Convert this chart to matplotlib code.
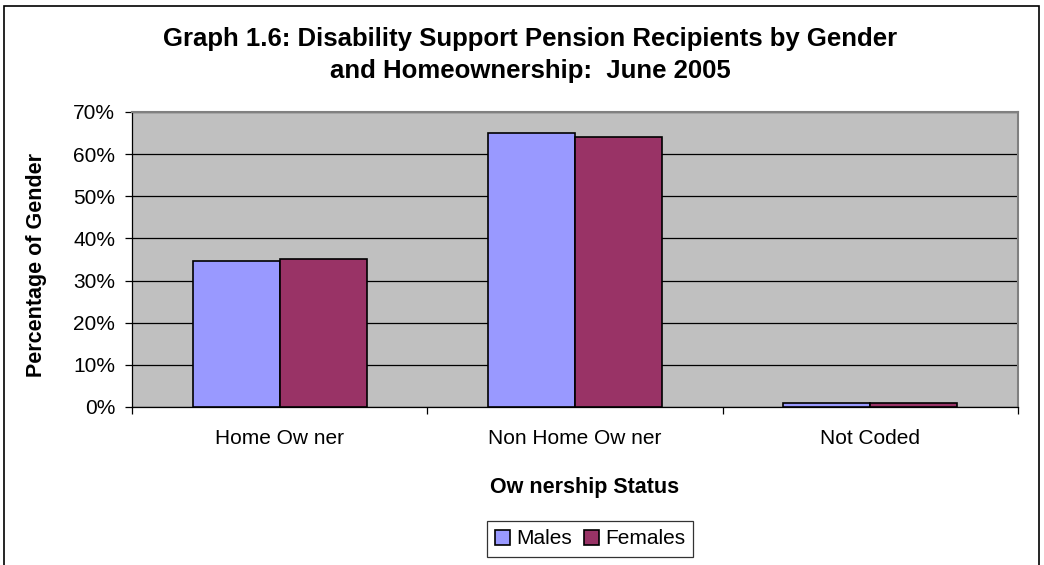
import numpy as np
import matplotlib.pyplot as plt
from matplotlib.patches import Rectangle
from matplotlib.ticker import FixedLocator, PercentFormatter

plt.rcParams["font.family"] = ["Liberation Sans", "DejaVu Sans"]

categories = ["Home Ow ner", "Non Home Ow ner", "Not Coded"]
males = [34.6, 65.0, 1.0]
females = [35.1, 64.1, 1.0]
series_names = ["Males", "Females"]
colors = ["#9999FF", "#993366"]

fig = plt.figure(figsize=(10.44, 5.65), dpi=100)
ax = fig.add_axes([0.1264, 0.2797, 0.8487, 0.5221])

x = np.arange(len(categories))
w = 0.295
ax.bar(x - w / 2, males, w, color=colors[0], edgecolor="black", linewidth=1.2,
       label=series_names[0], zorder=3)
ax.bar(x + w / 2, females, w, color=colors[1], edgecolor="black", linewidth=1.2,
       label=series_names[1], zorder=3)

ax.set_facecolor("#C0C0C0")
ax.set_xlim(-0.5, len(categories) - 0.5)
ax.set_ylim(0, 70)
ax.set_yticks(np.arange(0, 71, 10))
ax.yaxis.set_major_formatter(PercentFormatter(decimals=0))
ax.grid(axis="y", color="black", linewidth=0.9, zorder=1)

ax.set_xticks(x)
ax.set_xticklabels(categories)
ax.xaxis.set_minor_locator(FixedLocator(np.arange(-0.5, len(categories), 1.0)))
ax.tick_params(axis="x", which="major", length=0, pad=16, labelsize=15)
ax.tick_params(axis="x", which="minor", length=5, width=0.9, direction="out")
ax.tick_params(axis="y", length=5, width=0.9, labelsize=15, pad=7)

for side in ["top", "right"]:
    ax.spines[side].set_color("#808080")
    ax.spines[side].set_linewidth(1.5)
for side in ["left", "bottom"]:
    ax.spines[side].set_color("black")
    ax.spines[side].set_linewidth(0.9)

ax.set_ylabel("Percentage of Gender", fontsize=15.5, fontweight="bold")
ax.yaxis.set_label_coords(37 / 1044, 1 - 265 / 565, transform=fig.transFigure)
ax.set_xlabel("Ow nership Status", fontsize=15.5, fontweight="bold")
ax.xaxis.set_label_coords(585 / 1044, 1 - 487 / 565, transform=fig.transFigure)
ax.xaxis.label.set_va("center")
ax.yaxis.label.set_va("center")

fig.text(530 / 1044, 1 - 55 / 565,
         "Graph 1.6: Disability Support Pension Recipients by Gender\nand Homeownership:  June 2005",
         ha="center", va="center", fontsize=18.5, fontweight="bold", linespacing=1.4)

leg = ax.legend(loc="center", bbox_to_anchor=(590 / 1044, 1 - 539 / 565),
                bbox_transform=fig.transFigure, ncol=2, fontsize=15,
                frameon=True, fancybox=False, edgecolor="black",
                handlelength=0.7, handleheight=0.7, handletextpad=0.3,
                columnspacing=0.6, borderpad=0.4)
leg.get_frame().set_linewidth(0.9)

fig.patches.append(Rectangle((4 / 1044, -0.1), 1035 / 1044, 0.1 + 1 - 6 / 565,
                             transform=fig.transFigure, fill=False,
                             edgecolor="black", linewidth=1.2))

fig.savefig("out.png", dpi=100)
